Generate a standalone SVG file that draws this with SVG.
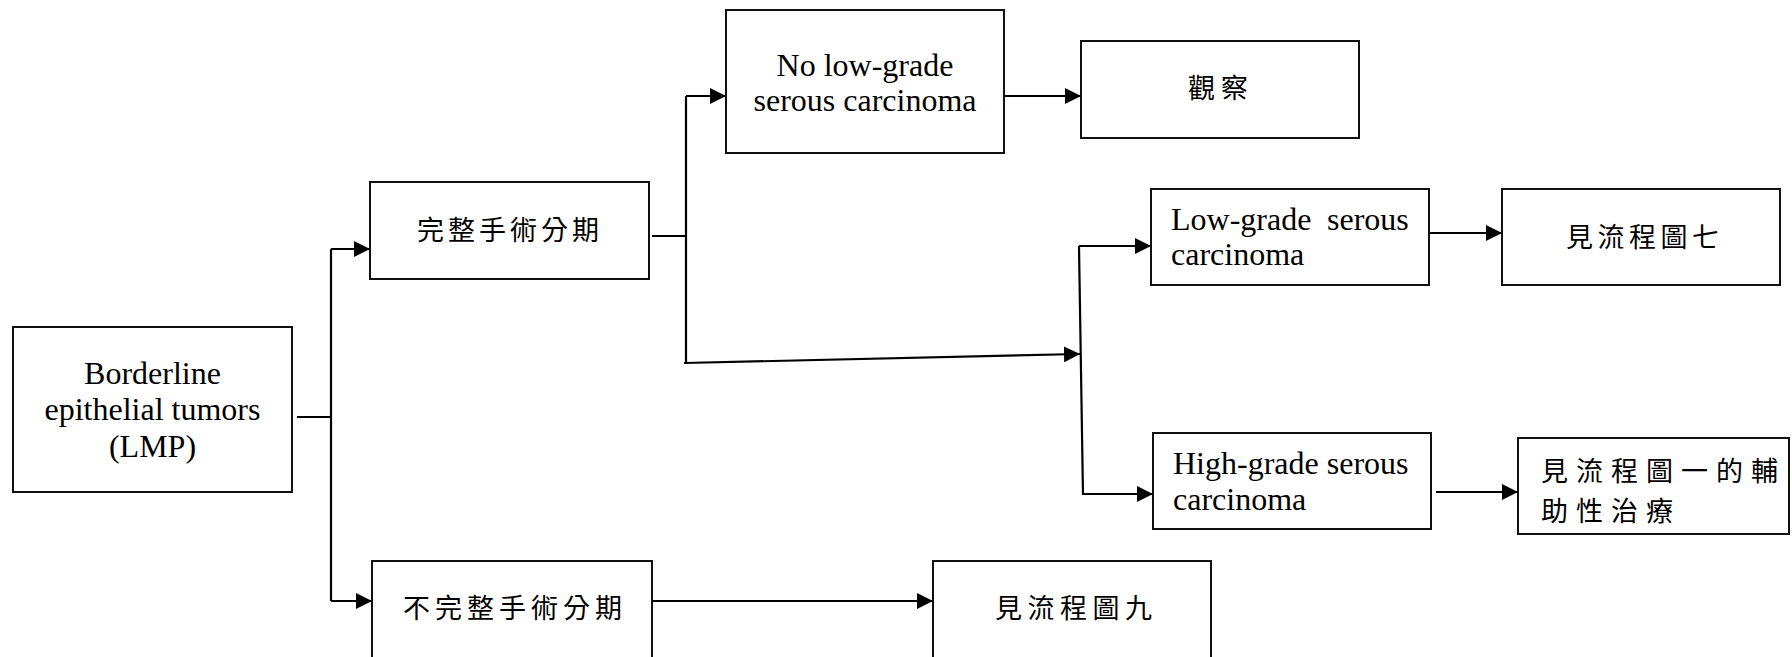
<svg xmlns="http://www.w3.org/2000/svg" width="1792" height="657" viewBox="0 0 1792 657">
  <style>
    .box { fill: #ffffff; stroke: #111111; stroke-width: 2; }
    .en { font-family: "Liberation Serif", "Times New Roman", serif; font-size: 32px; fill: #000000; }
    .zh { font-family: "Noto Sans CJK TC", "Noto Sans CJK SC", sans-serif; font-size: 27px; fill: #000000; }
    .link { fill: none; stroke: #000000; stroke-width: 2.2; }
  </style>
  <defs>
    <marker id="arrow" markerUnits="userSpaceOnUse" markerWidth="16" markerHeight="16" refX="16" refY="8" orient="auto">
      <path d="M0,0 L16,8 L0,16 Z" fill="#000000"/>
    </marker>
  </defs>
  <rect width="1792" height="657" fill="#ffffff"/>

  <!-- connectors -->
  <g id="connectors">
    <path class="link" d="M297,417 H331"/>
    <path class="link" d="M331,601 V249"/>
    <path class="link" d="M331,249 H370" marker-end="url(#arrow)"/>
    <path class="link" d="M331,601 H372" marker-end="url(#arrow)"/>

    <path class="link" d="M652,236 H686"/>
    <path class="link" d="M686,363 V96"/>
    <path class="link" d="M686,96 H726" marker-end="url(#arrow)"/>
    <path class="link" d="M684,363 L1080,354" marker-end="url(#arrow)"/>

    <path class="link" d="M1079,246 L1083,495"/>
    <path class="link" d="M1079,246 H1151" marker-end="url(#arrow)"/>
    <path class="link" d="M1083,494 H1153" marker-end="url(#arrow)"/>

    <path class="link" d="M1004,96 H1081" marker-end="url(#arrow)"/>
    <path class="link" d="M1429,233 H1502" marker-end="url(#arrow)"/>
    <path class="link" d="M1436,492 H1518" marker-end="url(#arrow)"/>
    <path class="link" d="M652,601 H933" marker-end="url(#arrow)"/>
  </g>

  <!-- nodes -->
  <g id="lmp">
    <rect class="box" x="13" y="327" width="279" height="165"/>
    <text class="en" x="152.5" y="384" text-anchor="middle">Borderline</text>
    <text class="en" x="152.5" y="420" text-anchor="middle">epithelial tumors</text>
    <text class="en" x="152.5" y="457" text-anchor="middle">(LMP)</text>
  </g>

  <g id="complete-staging">
    <rect class="box" x="370" y="182" width="279" height="97"/>
    <text class="zh" x="417" y="240" letter-spacing="4">完整手術分期</text>
  </g>

  <g id="incomplete-staging">
    <rect class="box" x="372" y="561" width="280" height="110"/>
    <text class="zh" x="403" y="618" letter-spacing="5">不完整手術分期</text>
  </g>

  <g id="no-lgsc">
    <rect class="box" x="726" y="10" width="278" height="143"/>
    <text class="en" x="865" y="76" text-anchor="middle">No low-grade</text>
    <text class="en" x="865" y="111" text-anchor="middle">serous carcinoma</text>
  </g>

  <g id="observe">
    <rect class="box" x="1081" y="41" width="278" height="97"/>
    <text class="zh" x="1188" y="98" letter-spacing="6">觀察</text>
  </g>

  <g id="lgsc">
    <rect class="box" x="1151" y="189" width="278" height="96"/>
    <text class="en" x="1171" y="230">Low-grade</text>
    <text class="en" x="1327" y="230">serous</text>
    <text class="en" x="1171" y="265">carcinoma</text>
  </g>

  <g id="chart7">
    <rect class="box" x="1502" y="189" width="278" height="96"/>
    <text class="zh" x="1566" y="247" letter-spacing="4.5">見流程圖七</text>
  </g>

  <g id="hgsc">
    <rect class="box" x="1153" y="433" width="278" height="96"/>
    <text class="en" x="1173" y="474">High-grade serous</text>
    <text class="en" x="1173" y="510">carcinoma</text>
  </g>

  <g id="chart1-adjuvant">
    <rect class="box" x="1518" y="438" width="271" height="96"/>
    <text class="zh" x="1541" y="481" letter-spacing="8">見流程圖一的輔</text>
    <text class="zh" x="1541" y="521" letter-spacing="8">助性治療</text>
  </g>

  <g id="chart9">
    <rect class="box" x="933" y="561" width="278" height="110"/>
    <text class="zh" x="995" y="618" letter-spacing="5.5">見流程圖九</text>
  </g>
</svg>
